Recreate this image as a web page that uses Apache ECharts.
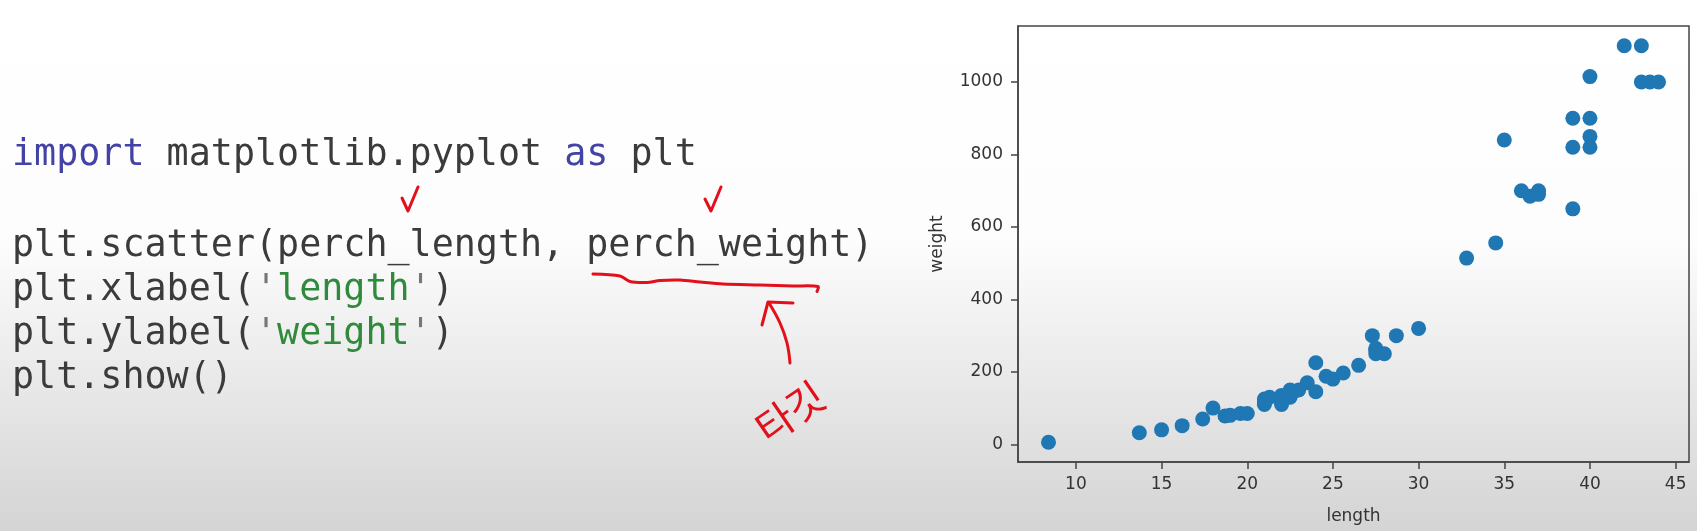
<!DOCTYPE html>
<html>
<head>
<meta charset="utf-8">
<script src="https://cdn.jsdelivr.net/npm/echarts@6/dist/echarts.min.js"></script>
<style>
html,body{margin:0;padding:0;}
#c{width:1697px;height:531px;}
</style>
</head>
<body>
<div id="c"></div>
<script>
// perch data
const perchLength = [8.4, 13.7, 15.0, 16.2, 17.4, 18.0, 18.7, 19.0, 19.6, 20.0, 21.0, 21.0, 21.0, 21.3, 22.0, 22.0, 22.0, 22.0, 22.0, 22.5, 22.5, 22.7, 23.0, 23.5, 24.0, 24.0, 24.6, 25.0, 25.6, 26.5, 27.3, 27.5, 27.5, 27.5, 28.0, 28.7, 30.0, 32.8, 34.5, 35.0, 36.5, 36.0, 37.0, 37.0, 39.0, 39.0, 39.0, 40.0, 40.0, 40.0, 40.0, 42.0, 43.0, 43.0, 43.5, 44.0];
const perchWeight = [5.9, 32.0, 40.0, 51.5, 70.0, 100.0, 78.0, 80.0, 85.0, 85.0, 110.0, 115.0, 125.0, 130.0, 120.0, 120.0, 130.0, 135.0, 110.0, 130.0, 150.0, 145.0, 150.0, 170.0, 225.0, 145.0, 188.0, 180.0, 197.0, 218.0, 300.0, 260.0, 265.0, 250.0, 250.0, 300.0, 320.0, 514.0, 556.0, 840.0, 685.0, 700.0, 700.0, 690.0, 900.0, 650.0, 820.0, 850.0, 900.0, 1015.0, 820.0, 1100.0, 1000.0, 1100.0, 1000.0, 1000.0];
const xTicks = [10, 15, 20, 25, 30, 35, 40, 45];
const yTicks = [0, 200, 400, 600, 800, 1000];
const xLabel = 'length';
const yLabel = 'weight';
const codeLines = [
  '{kw|import} matplotlib.pyplot {kw|as} plt',
  'plt.scatter(perch_length, perch_weight)',
  "plt.xlabel({q|'}{str|length}{q|'})",
  "plt.ylabel({q|'}{str|weight}{q|'})",
  'plt.show()'
];
const codeBaselines = [166, 257, 301, 345, 389];
const note = '타깃';

const points = perchLength.map((x, i) => [x, perchWeight[i]]);

const codeSize = 36.7;
const codeFont = codeSize + 'px "DejaVu Sans Mono", "Liberation Mono", monospace';
const codeRich = {
  kw: {fill: '#4343a6', font: codeFont},
  str: {fill: '#2f8a3b', font: codeFont},
  q: {fill: '#777777', font: codeFont}
};
const graphics = codeLines.map((t, i) => ({
  type: 'text',
  left: 12,
  top: codeBaselines[i] - 29,
  style: {
    text: t,
    font: codeFont,
    fill: '#3b3b3b',
    rich: codeRich
  }
}));
const red = '#e3101c';
const pen = {stroke: red, lineWidth: 3, fill: null, lineCap: 'round', lineJoin: 'round'};
graphics.push(
  {type: 'polyline', shape: {points: [[402,198],[408,211],[418,187]]}, style: pen},
  {type: 'polyline', shape: {points: [[705,199],[711,211],[721,187]]}, style: pen},
  {type: 'polyline', shape: {points: [[593,274],[620,276],[630,281.5],[647,282.5],[660,280.5],[680,280],[700,282],[723,284],[760,285],[793,286],[818,286.5],[817,291.5]], smooth: 0.3}, style: pen},
  {type: 'polyline', shape: {points: [[790,363],[787,343],[780,323],[769,303]], smooth: 0.4}, style: pen},
  {type: 'polyline', shape: {points: [[762,325],[768,302],[793,303]]}, style: pen},
  {type: 'text', x: 790, y: 412, rotation: 0.6,
   style: {text: note, font: '40px "Noto Sans CJK KR"', fill: red, align: 'center', verticalAlign: 'middle'}}
);

const chart = echarts.init(document.getElementById('c'), null, {renderer: 'canvas'});
const axisFont = '"DejaVu Sans", "Liberation Sans", sans-serif';
chart.setOption({
  animation: false,
  backgroundColor: {
    type: 'linear', x: 0, y: 0, x2: 0, y2: 1,
    colorStops: [
      {offset: 0, color: '#ffffff'},
      {offset: 0.45, color: '#fdfdfd'},
      {offset: 0.66, color: '#ededed'},
      {offset: 1, color: '#d4d4d4'}
    ]
  },
  grid: {
    left: 1018, top: 26, width: 671, height: 436,
    show: true, borderColor: '#444', borderWidth: 1.5, backgroundColor: 'transparent'
  },
  xAxis: {
    type: 'value', min: 6.62, max: 45.78,
    splitLine: {show: false},
    axisLine: {show: true, onZero: false, lineStyle: {color: '#444', width: 1.5}},
    axisTick: {show: true, length: 7, customValues: xTicks, lineStyle: {color: '#444', width: 1.5}},
    axisLabel: {customValues: xTicks, color: '#333', fontSize: 17, fontFamily: axisFont, margin: 14,
      formatter: v => String(v)},
    name: xLabel, nameLocation: 'middle', nameGap: 46,
    nameTextStyle: {color: '#333', fontSize: 17, fontFamily: axisFont}
  },
  yAxis: {
    type: 'value', min: -48.8, max: 1154.7,
    splitLine: {show: false},
    axisLine: {show: true, onZero: false, lineStyle: {color: '#444', width: 1.5}},
    axisTick: {show: true, length: 7, customValues: yTicks, lineStyle: {color: '#444', width: 1.5}},
    axisLabel: {customValues: yTicks, color: '#333', fontSize: 17, fontFamily: axisFont, margin: 15,
      formatter: v => String(v)},
    name: yLabel, nameLocation: 'middle', nameGap: 72, nameRotate: 90,
    nameTextStyle: {color: '#333', fontSize: 17, fontFamily: axisFont}
  },
  series: [{
    type: 'scatter',
    data: points,
    symbolSize: 15,
    itemStyle: {color: '#1f77b4', opacity: 1},
    emphasis: {disabled: true}
  }],
  graphic: graphics
});
</script>
</body>
</html>
